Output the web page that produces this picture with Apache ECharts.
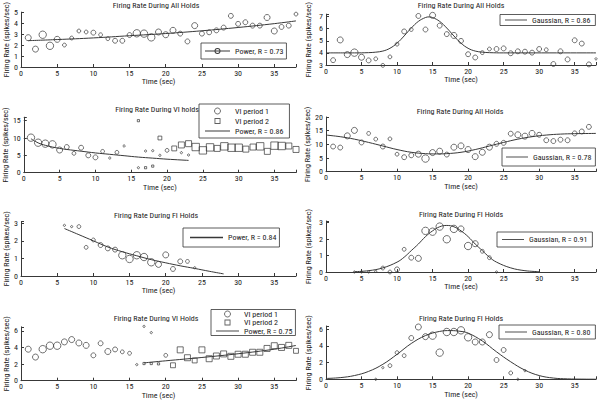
<!DOCTYPE html>
<html>
<head>
<meta charset="utf-8">
<script src="https://cdn.jsdelivr.net/npm/echarts@6/dist/echarts.min.js"></script>
<style>
html,body{margin:0;padding:0;background:#fff;}
#chart{width:600px;height:403px;}
</style>
</head>
<body>
<div id="chart"></div>
<script>
// ===== DATA =====
// Panel A: top-left, all holds, power fit
const aT = [1,2,3,4,5,6,7,8,9,10,11,12,13,14,15,16,17,18,19,20,21,22,23,24,25,26,27,28,29,30,31,32,33,34,35,36,37,38];
const aY = [2.67,1.63,2.94,1.93,2.52,2.0,2.64,3.28,3.19,3.13,2.94,2.58,2.39,2.39,2.91,3.07,3.04,2.70,3.19,2.94,3.34,3.04,2.33,3.77,3.04,3.16,3.34,3.59,4.66,3.93,4.08,3.77,3.77,4.51,3.28,3.65,3.77,4.82];
const aW = [4,4,5,5,4,2,2,2,2,3,2,2,3,3,3,5,5,5,4,4,4,3,3,4,3,3,3,3,3,3,3,3,3,4,4,3,3,2];
const aFitT = [1,5,10,15,20,25,30,35,38];
const aFitY = [2.4,2.5,2.65,2.85,3.05,3.3,3.6,3.95,4.2];

// Panel B: top-right, all holds, gaussian fit
const bT = [1,2,3,4,5,6,7,8,9,10,11,12,13,14,15,16,17,18,19,20,21,22,23,24,25,26,27,28,29,30,31,32,33,34,35,36,37,38];
const bY = [3.40,5.07,3.86,4.02,3.64,3.38,3.51,2.97,3.67,4.72,5.77,5.93,7.05,5.93,7.10,6.25,5.55,5.44,4.99,3.89,3.62,4.02,4.32,4.32,4.37,3.97,4.13,4.10,4.02,4.32,4.26,3.08,4.13,3.46,5.04,4.77,3.05,3.51];
const bW = [3,4,4,5,4,3,2,2,2,2,3,2,3,3,4,3,3,4,3,3,3,2,2,3,3,3,3,3,3,3,2,3,3,3,3,3,3,1];
const bFitT = [0,4,6,7,8,9,10,11,12,13,14,14.5,15,16,17,18,19,20,21,22,23,25,38];
const bFitY = [4.0,4.0,4.02,4.06,4.15,4.38,4.8,5.4,6.05,6.6,6.92,6.97,6.92,6.6,6.05,5.4,4.8,4.38,4.15,4.06,4.02,4.0,4.0];

// Panel C: VI holds (period 1 circles, period 2 squares), power fit
const cT1 = [1,2,3,4,5,6,7,8,9,10,11,12,13,14,16,17,18,19,20,22,23];
const cY1 = [10.1,8.65,8.37,8.17,6.54,7.4,5.58,7.2,5.0,4.42,6.15,4.23,5.87,7.7,1.44,6.25,6.35,5.0,6.44,5.77,5.1];
const cW1 = [5,5,5,5,4,3,2,3,3,3,2,1,2,1,1,1,1,1,2,1,1];
const cT2 = [16,17,18,19,21,22,23,24,25,26,27,28,29,30,31,32,33,34,35,36,37,38];
const cY2 = [15.0,1.44,1.9,10.0,7.0,8.0,8.37,7.4,6.44,7.3,7.0,7.6,7.2,7.2,6.8,7.4,7.6,6.15,7.8,7.7,7.7,6.7];
const cW2 = [1,1,1,2,3,4,4,5,5,5,4,5,5,5,4,4,5,4,5,5,4,4];
const cFitT = [1,2,3,4,5,6,8,10,12,14,16,18,20,23];
const cFitY = [9.8,8.6,7.9,7.4,7.0,6.7,6.2,5.7,5.3,4.9,4.5,4.2,3.9,3.55];

// Panel D: all holds, inverted gaussian fit
const dT = [1,2,3,4,5,6,7,8,9,10,11,12,13,14,15,16,17,18,19,20,21,22,23,24,25,26,27,28,29,30,31,32,33,34,35,36,37];
const dY = [9.2,8.83,13.1,15.1,10.7,14.0,11.9,9.2,12.0,6.4,5.3,6.0,6.4,4.8,7.0,7.5,6.26,8.96,9.45,8.1,5.5,7.1,8.96,10.2,10.55,13.9,13.5,13.0,14.0,13.5,11.5,11.2,11.7,11.5,14.0,14.7,16.4];
const dW = [3,3,4,4,3,2,2,3,2,2,3,3,4,5,4,4,3,4,4,4,4,4,4,3,3,3,4,4,4,3,3,3,3,3,3,3,3];
const dFitT = [0,2,4,6,8,10,12,14,15.5,17,19,21,23,25,27,29,31,33,35,38];
const dFitY = [13.4,12.8,11.9,10.7,9.4,8.1,7.1,6.6,6.5,6.6,7.1,8.1,9.4,10.7,11.9,12.8,13.4,13.75,13.9,14.0];

// Panel E: FI holds, power fit
const eT = [6,7,8,9,10,11,12,13,14,15,16,17,18,19,20,21,22,23,24];
const eY = [2.88,2.81,2.81,1.63,2.05,1.76,1.57,1.5,1.18,0.97,1.18,1.08,0.78,0.66,1.2,0.4,0.83,0.83,0.47];
const eW = [1,1,2,2,2,3,3,3,5,5,5,5,5,4,4,3,3,2,1];
const eFitT = [6,8,10,12,14,16,18,20,22,24,26,28];
const eFitY = [2.7,2.35,2.0,1.65,1.38,1.15,0.93,0.75,0.58,0.43,0.27,0.12];

// Panel F: FI holds, gaussian fit
const fT = [4,5,6,7,8,9,10,11,12,13,14,15,16,17,18,19,20,21,22,23,24];
const fY = [0,0,0,0.04,0.24,0,0.16,1.38,0.87,0.83,2.5,2.45,2.76,1.99,2.62,2.62,1.58,1.72,1.26,0.87,0];
const fW = [1,1,1,1,2,2,3,2,3,4,5,5,5,5,5,4,5,4,2,2,1];
const fFitT = [4,6,8,10,11,12,13,14,15,16,17,18,19,20,21,22,23,24,26,28,30];
const fFitY = [0.02,0.08,0.25,0.6,0.9,1.3,1.7,2.15,2.5,2.75,2.83,2.75,2.5,2.15,1.7,1.3,0.9,0.6,0.25,0.08,0.02];

// Panel G: VI holds (period 1 circles, period 2 squares), power fit
const gT1 = [1,2,3,4,5,6,7,8,9,10,11,12,13,14,15,16,17,18,20];
const gY1 = [3.8,2.85,3.8,4.22,4.22,4.68,4.96,4.55,4.26,3.06,4.51,3.52,3.77,3.48,3.31,1.94,6.55,5.8,3.06];
const gW1 = [4,4,5,5,5,4,4,4,4,3,3,4,3,2,2,1,1,1,2];
const gT2 = [17,18,19,21,22,23,24,25,26,27,28,29,30,31,32,33,34,35,36,37,38];
const gY2 = [2.07,2.07,2.03,1.86,3.72,2.77,2.44,3.72,2.65,2.98,3.23,2.94,3.19,3.19,3.43,3.43,3.89,4.22,4.01,4.26,3.6];
const gW2 = [1,1,1,3,4,4,3,4,4,4,4,4,4,4,4,4,4,4,4,4,3];
const gFitT = [17,20,25,30,35,38];
const gFitY = [2.15,2.4,2.8,3.25,3.8,4.25];

// Panel H: FI holds, gaussian fit
const hT = [7,8,9,10,11,12,13,14,15,16,17,18,19,20,21,22,23,24,25,26,27,28];
const hY = [0,1.4,1.64,3.2,2.84,4.96,6.28,5.12,5.24,3.2,5.68,5.68,5.88,5.04,4.48,4.48,5.36,2.32,3.52,0.76,0,1.04];
const hW = [1,1,2,2,2,3,4,4,5,5,5,5,5,5,4,4,4,3,3,2,1,1];
const hFitT = [0,2,4,6,8,10,12,14,16,17.5,19,20,22,24,26,28,30,32,34,36,38];
const hFitY = [0.1,0.2,0.45,0.95,1.8,3.0,4.3,5.25,5.75,5.85,5.75,5.55,4.6,3.3,2.1,1.1,0.45,0.15,0.05,0.02,0.01];

const titleTexts = ['Firing Rate During All Holds','Firing Rate During All Holds','Firing Rate During VI holds','Firing Rate During All Holds','Firing Rate During FI Holds','Firing Rate During FI Holds','Firing Rate During VI Holds','Firing Rate During FI Holds'];
const fitNames = ['Power, R = 0.73','Gaussian, R = 0.86','Power, R = 0.86','Gaussian, R = 0.78','Power, R = 0.84','Gaussian, R = 0.91','Power, R = 0.75','Gaussian, R = 0.80'];
const xLabel = 'Time (sec)';
const yLabel = 'Firing Rate (spikes/sec)';
const p1Name = 'VI period 1';
const p2Name = 'VI period 2';

// ===== STYLE / LAYOUT =====
const FONT = "'Roboto Condensed', 'Liberation Sans Narrow', 'Liberation Sans', sans-serif";
const INK = '#383838';
const TXT = '#1a1a1a';
const FS = 8;
const sizeOf = w => [0, 2.2, 3.8, 4.9, 6.0, 7.4][w];
const pairs = (t, y) => t.map((x, i) => [x, y[i]]);
const isStep = (v, s) => Math.abs(v / s - Math.round(v / s)) < 1e-6;

const L = 21, R = 326, LW = 275, RW = 270;
const grids = [
  {left:L, top:12, width:LW, height:55},
  {left:R, top:12.8, width:RW, height:52.2},
  {left:L, top:117.2, width:LW, height:55.5},
  {left:R, top:117, width:RW, height:54.7},
  {left:L, top:221.5, width:LW, height:54.5},
  {left:R, top:221, width:RW, height:51},
  {left:L, top:326.8, width:LW, height:53.9},
  {left:R, top:326, width:RW, height:53.3}
];
const yRanges = [[0,5,1],[3,7.2,1],[0,16,5],[0,20,5],[0,3.1,1],[0,3.1,1],[0,6.5,2],[0,6.4,2]];
const yNameGaps = [9,14,11,14,9,14,10,14];
const titleTops = [1,1,105,107,211,210,314.5,314];
const titleCx = [156,461,157,460,156,461,156,461];

const lineIcon = 'path://M0,0H25V1H0Z';
const squareIcon = 'path://M0,0H6V6H0Z M0.9,0.9V5.1H5.1V0.9Z';
const lineCircleIcon = 'path://M0,2.55H25V3.45H0Z M9.5,3a3,3 0 1,1 6,0a3,3 0 1,1 -6,0Z M10.4,3a2.1,2.1 0 1,0 4.2,0a2.1,2.1 0 1,0 -4.2,0Z';
const lineItem = n => ({name:n, icon:lineIcon, itemStyle:{color:INK, borderWidth:0}});
const circleItem = n => ({name:n, icon:'circle', itemStyle:{color:'rgba(255,255,255,0)', borderColor:INK, borderWidth:0.9}});
const squareItem = n => ({name:n, icon:squareIcon, itemStyle:{color:INK, borderWidth:0}});

const legends = [
  {left:201, top:43, padding:[4,3,4,4], itemWidth:25, data:[{name:fitNames[0], icon:lineCircleIcon, itemStyle:{color:INK, borderWidth:0}}]},
  {left:500, top:14.5, padding:[1.5,5,1.5,5], itemWidth:22, data:[lineItem(fitNames[1])]},
  {left:199, top:104, padding:[2.5,6,2.5,6], itemWidth:25, itemGap:1, lh:9, data:[circleItem(p1Name),squareItem(p2Name),lineItem(fitNames[2])]},
  {left:502, top:148, padding:[5,4,5,4], itemWidth:22, data:[lineItem(fitNames[3])]},
  {left:183, top:228, padding:[5.5,3,5.5,7], itemWidth:33, data:[lineItem(fitNames[4])]},
  {left:497, top:232, padding:[3.5,5,3.5,5], itemWidth:22, data:[lineItem(fitNames[5])]},
  {left:211, top:309.5, padding:[0.5,3,0.5,5], itemWidth:23, itemGap:0.5, lh:8, data:[circleItem(p1Name),squareItem(p2Name),lineItem(fitNames[6])]},
  {left:499, top:325, padding:[3,5,3,6], itemWidth:22, data:[lineItem(fitNames[7])]}
];

const txt = {fontSize:FS, color:TXT, fontFamily:FONT};

const option = {
  animation:false,
  backgroundColor:'#fff',
  title: titleTexts.map((t,i)=>({text:t, left:titleCx[i], top:titleTops[i], textAlign:'center', padding:0,
    textStyle:{fontSize:FS, fontWeight:'normal', color:TXT, fontFamily:FONT}})),
  grid: grids,
  legend: legends.map(l=>({
    orient:'vertical', selectedMode:false, itemHeight:6, itemGap:(l.itemGap!=null?l.itemGap:2),
    left:l.left, top:l.top, padding:l.padding, itemWidth:l.itemWidth, data:l.data,
    borderColor:'#333', borderWidth:0.8, backgroundColor:'#fff',
    textStyle:Object.assign({}, txt, l.lh ? {lineHeight:l.lh} : {})
  })),
  xAxis: grids.map((g,i)=>({
    gridIndex:i, type:'value', min:0, max:38, interval:5,
    name:xLabel, nameLocation:'middle', nameGap:10, nameTextStyle:txt,
    axisLine:{onZero:false, lineStyle:{color:INK, width:1}},
    axisTick:{inside:true, length:3, lineStyle:{color:INK}},
    axisLabel:Object.assign({margin:2, formatter:v=>isStep(v,5)?String(v):''}, txt),
    splitLine:{show:false}
  })),
  yAxis: grids.map((g,i)=>({
    gridIndex:i, type:'value', min:yRanges[i][0], max:yRanges[i][1], interval:yRanges[i][2],
    name:yLabel, nameLocation:'middle', nameGap:yNameGaps[i], nameRotate:90, nameTextStyle:txt,
    axisLine:{show:true, onZero:false, lineStyle:{color:INK, width:1}},
    axisTick:{show:true, inside:true, length:3, lineStyle:{color:INK}},
    axisLabel:Object.assign({margin:3, formatter:v=>isStep(v,yRanges[i][2])?String(v):''}, txt),
    splitLine:{show:false}
  })),
  series: []
};

function scatter(i, name, t, y, w, symbol) {
  return {type:'scatter', name:name, xAxisIndex:i, yAxisIndex:i, data:pairs(t,y),
    symbol:symbol, symbolSize:(v,p)=>sizeOf(w[p.dataIndex]), clip:false, z:3,
    itemStyle:{color:'rgba(255,255,255,0)', borderColor:INK, borderWidth:0.9}};
}
function fit(i, name, t, y) {
  return {type:'line', name:name, xAxisIndex:i, yAxisIndex:i, data:pairs(t,y), smooth:0.4,
    symbol:'none', showSymbol:false, z:2,
    lineStyle:{color:INK, width:1}, itemStyle:{color:INK}};
}

option.series.push(
  scatter(0,'Firing rate A',aT,aY,aW,'circle'), fit(0,fitNames[0],aFitT,aFitY),
  scatter(1,'Firing rate B',bT,bY,bW,'circle'), fit(1,fitNames[1],bFitT,bFitY),
  scatter(2,p1Name,cT1,cY1,cW1,'circle'), scatter(2,p2Name,cT2,cY2,cW2,'rect'), fit(2,fitNames[2],cFitT,cFitY),
  scatter(3,'Firing rate D',dT,dY,dW,'circle'), fit(3,fitNames[3],dFitT,dFitY),
  scatter(4,'Firing rate E',eT,eY,eW,'circle'), fit(4,fitNames[4],eFitT,eFitY),
  scatter(5,'Firing rate F',fT,fY,fW,'circle'), fit(5,fitNames[5],fFitT,fFitY),
  scatter(6,p1Name,gT1,gY1,gW1,'circle'), scatter(6,p2Name,gT2,gY2,gW2,'rect'), fit(6,fitNames[6],gFitT,gFitY),
  scatter(7,'Firing rate H',hT,hY,hW,'circle'), fit(7,fitNames[7],hFitT,hFitY)
);

const chart = echarts.init(document.getElementById('chart'), null, {renderer:'svg'});
chart.setOption(option);
</script>
</body>
</html>
